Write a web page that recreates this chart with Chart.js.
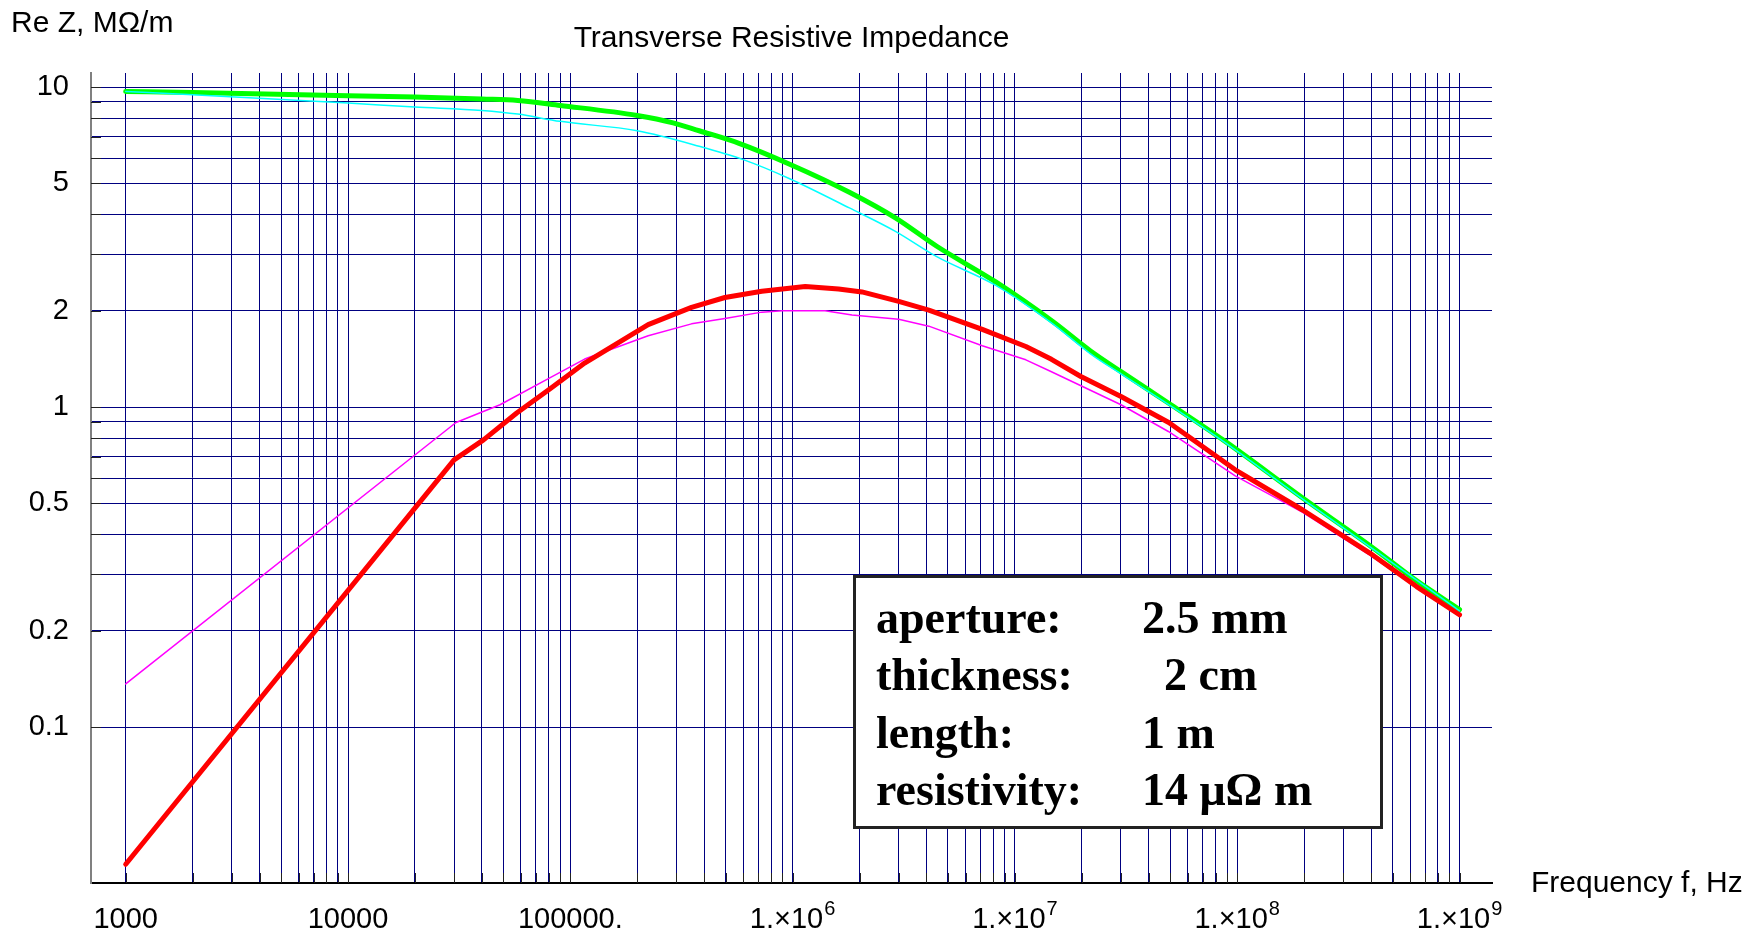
<!DOCTYPE html>
<html>
<head>
<meta charset="utf-8">
<title>Transverse Resistive Impedance</title>
<script src="https://cdn.jsdelivr.net/npm/chart.js@4.4.1/dist/chart.umd.min.js"></script>
<style>
  html, body { margin: 0; padding: 0; background: #fff; }
  #chart { display: block; }
</style>
</head>
<body>
<canvas id="chart" width="1755" height="934"></canvas>
<script>
// Frequency in Hz, Re Z in MOhm/m
const freqGreen = [1e3, 2e3, 1e4, 2e4, 4e4, 5.8e4, 9e4, 2e5, 2.9e5, 3.8e5, 5.7e5, 9.7e5, 1.8e6, 2.9e6, 4.45e6, 8.2e6, 1.48e7, 2.18e7, 3e7, 4.9e7, 8.7e7, 2e8, 4e8, 6.4e8, 1e9];
const zGreen    = [9.69, 9.62, 9.39, 9.31, 9.17, 9.08, 8.76, 8.15, 7.73, 7.30, 6.68, 5.74, 4.69, 3.90, 3.18, 2.46, 1.85, 1.50, 1.29, 1.03, 0.787, 0.516, 0.367, 0.287, 0.233];

const freqCyan = [1e3, 2e3, 1e4, 2e4, 4e4, 5.8e4, 9e4, 2e5, 3.8e5, 6e5, 9.7e5, 1.8e6, 2.9e6, 4.45e6, 8.2e6, 1.48e7, 2.18e7, 3e7, 4.9e7, 8.7e7, 2e8, 4e8, 1e9];
const zCyan    = [9.69, 9.46, 8.91, 8.66, 8.45, 8.23, 7.81, 7.30, 6.53, 5.93, 5.17, 4.19, 3.54, 2.95, 2.40, 1.82, 1.47, 1.27, 1.02, 0.78, 0.512, 0.364, 0.231];

const freqRed = [1e3, 3e4, 4.07e4, 5.74e4, 8.2e4, 1.16e5, 2.24e5, 3.51e5, 4.96e5, 7.27e5, 1.14e6, 1.61e6, 2.05e6, 3e6, 4.1e6, 7.13e6, 1.12e7, 1.46e7, 1.98e7, 3e7, 4.92e7, 9.8e7, 1.97e8, 3.95e8, 6.41e8, 1e9];
const zRed    = [0.0373, 0.684, 0.79, 0.958, 1.147, 1.373, 1.81, 2.05, 2.20, 2.30, 2.38, 2.34, 2.29, 2.14, 2.01, 1.75, 1.546, 1.41, 1.246, 1.079, 0.895, 0.637, 0.477, 0.35, 0.275, 0.2245];

const freqMagenta = [1e3, 3.06e4, 4.83e4, 8.2e4, 1.16e5, 2.24e5, 3.51e5, 4.96e5, 7.27e5, 9e5, 1.4e6, 1.85e6, 3e6, 4.1e6, 7.13e6, 1.12e7, 1.46e7, 3e7, 4.9e7, 9.8e7, 1.97e8, 3.95e8, 1e9];
const zMagenta    = [0.1365, 0.895, 1.017, 1.24, 1.413, 1.67, 1.82, 1.89, 1.98, 2.00, 2.00, 1.94, 1.88, 1.79, 1.555, 1.405, 1.29, 1.017, 0.839, 0.61, 0.469, 0.345, 0.222];

// Axis ticks
const xDecades = [1e3, 1e4, 1e5, 1e6, 1e7, 1e8];
const xMultipliers = [1, 2, 3, 4, 5, 6, 7, 8, 9];
const xLabelValues = [1e3, 1e4, 1e5, 1e6, 1e7, 1e8, 1e9];
const xLabelText = ['1000', '10000', '100000.', '1.\u00d710', '1.\u00d710', '1.\u00d710', '1.\u00d710'];
const xLabelExp = ['', '', '', '6', '7', '8', '9'];
const yGridValues = [0.1, 0.2, 0.3, 0.4, 0.5, 0.6, 0.7, 0.8, 0.9, 1, 2, 3, 4, 5, 6, 7, 8, 9, 10];
const yLabelValues = [0.1, 0.2, 0.5, 1, 2, 5, 10];
const yLabelText = ['0.1', '0.2', '0.5', '1', '2', '5', '10'];

// Parameter box
const boxLabels = ['aperture:', 'thickness:', 'length:', 'resistivity:'];
const boxValues = ['2.5 mm', '2 cm', '1 m', '14 \u03bc\u03a9 m'];

const titleText = 'Transverse Resistive Impedance';
const yTitleText = 'Re Z, M\u03a9/m';
const xTitleText = 'Frequency f, Hz';

const xGridValues = [];
xDecades.forEach(d => xMultipliers.forEach(m => xGridValues.push(d * m)));
xGridValues.push(1e9);

function toPoints(xs, ys) {
    return xs.map((x, i) => ({ x: x, y: ys[i] }));
}

function findLabel(value, values, texts) {
    for (let i = 0; i < values.length; i++) {
        if (Math.abs(value - values[i]) / values[i] < 1e-6) return texts[i];
    }
    return '';
}

const SANS = '"Liberation Sans", Arial, sans-serif';
const SERIF = '"Liberation Serif", "Times New Roman", serif';

// Titles, x labels with exponents, inward tick marks and the parameter box
const decorPlugin = {
    id: 'decor',
    beforeDatasetsDraw(chart) {
        const ctx = chart.ctx;
        const xs = chart.scales.x;
        const ys = chart.scales.y;
        const area = chart.chartArea;
        ctx.save();
        ctx.strokeStyle = '#222';
        ctx.lineWidth = 1;
        ctx.beginPath();
        xs.ticks.forEach(t => {
            const px = Math.round(xs.getPixelForValue(t.value)) + 0.5;
            ctx.moveTo(px, area.bottom);
            ctx.lineTo(px, area.bottom - 10);
        });
        ys.ticks.forEach(t => {
            const py = Math.round(ys.getPixelForValue(t.value)) + 0.5;
            ctx.moveTo(area.left, py);
            ctx.lineTo(area.left + 10, py);
        });
        ctx.stroke();
        ctx.restore();
    },
    afterDraw(chart) {
        const ctx = chart.ctx;
        const area = chart.chartArea;
        const xs = chart.scales.x;
        ctx.save();
        ctx.fillStyle = '#000';
        ctx.textBaseline = 'alphabetic';

        // x tick labels
        xLabelValues.forEach((v, i) => {
            const px = xs.getPixelForValue(v);
            ctx.font = '29px ' + SANS;
            const w1 = ctx.measureText(xLabelText[i]).width;
            ctx.font = '20px ' + SANS;
            const w2 = xLabelExp[i] ? ctx.measureText(xLabelExp[i]).width + 1 : 0;
            const x0 = px - (w1 + w2) / 2;
            ctx.textAlign = 'left';
            ctx.font = '29px ' + SANS;
            ctx.fillText(xLabelText[i], x0, 928);
            if (xLabelExp[i]) {
                ctx.font = '20px ' + SANS;
                ctx.fillText(xLabelExp[i], x0 + w1 + 1, 915);
            }
        });

        ctx.font = '30px ' + SANS;
        ctx.textAlign = 'center';
        ctx.fillText(titleText, (area.left + area.right) / 2, 47);
        ctx.textAlign = 'left';
        ctx.fillText(yTitleText, 11, 32);
        ctx.fillText(xTitleText, 1531, 892);

        // parameter box
        ctx.fillStyle = '#fff';
        ctx.fillRect(854, 576, 528, 252);
        ctx.strokeStyle = '#222';
        ctx.lineWidth = 3;
        ctx.strokeRect(854.5, 576.5, 527, 251);

        ctx.fillStyle = '#000';
        ctx.font = 'bold 46px ' + SERIF;
        const valueX = [1142, 1164, 1142, 1142];
        boxLabels.forEach((lab, i) => {
            const by = 633 + i * 57.4;
            ctx.fillText(lab, 876, by);
            ctx.fillText(boxValues[i], valueX[i], by);
        });
        ctx.restore();
    }
};

document.addEventListener('DOMContentLoaded', function() {
    const ctx = document.getElementById('chart').getContext('2d');
    new Chart(ctx, {
        type: 'line',
        data: {
            datasets: [
                {
                    label: 'cyan',
                    data: toPoints(freqCyan, zCyan),
                    borderColor: '#00ffff',
                    borderWidth: 1.5,
                    cubicInterpolationMode: 'monotone'
                },
                {
                    label: 'red',
                    data: toPoints(freqRed, zRed),
                    borderColor: '#ff0000',
                    borderWidth: 5
                },
                {
                    label: 'magenta',
                    data: toPoints(freqMagenta, zMagenta),
                    borderColor: '#ff00ff',
                    borderWidth: 1.5
                },
                {
                    label: 'green',
                    data: toPoints(freqGreen, zGreen),
                    borderColor: '#00ff00',
                    borderWidth: 5,
                    cubicInterpolationMode: 'monotone'
                }
            ]
        },
        options: {
            responsive: false,
            animation: false,
            devicePixelRatio: 1,
            layout: {
                padding: { top: 73, right: 263, left: 0, bottom: 0 }
            },
            elements: {
                point: { radius: 0 },
                line: { tension: 0, borderCapStyle: 'round', borderJoinStyle: 'round', fill: false }
            },
            plugins: {
                legend: { display: false },
                tooltip: { enabled: false },
                title: { display: false }
            },
            scales: {
                x: {
                    type: 'logarithmic',
                    min: 698,
                    max: 1.4e9,
                    afterFit: scale => { scale.height = 51; },
                    afterBuildTicks: scale => {
                        scale.ticks = xGridValues.map(v => ({ value: v }));
                    },
                    grid: {
                        color: '#000080',
                        lineWidth: 1,
                        drawTicks: false
                    },
                    border: { color: '#000', width: 2 },
                    ticks: {
                        display: false,
                        autoSkip: false,
                        maxRotation: 0
                    }
                },
                y: {
                    type: 'logarithmic',
                    min: 0.0326,
                    max: 11.06,
                    afterFit: scale => { scale.width = 91; },
                    afterBuildTicks: scale => {
                        scale.ticks = yGridValues.map(v => ({ value: v }));
                    },
                    grid: {
                        color: '#000080',
                        lineWidth: 1,
                        drawTicks: false
                    },
                    border: { color: '#808080', width: 2 },
                    ticks: {
                        autoSkip: false,
                        padding: 22,
                        color: '#000',
                        font: { family: SANS, size: 29 },
                        callback: value => findLabel(value, yLabelValues, yLabelText)
                    }
                }
            }
        },
        plugins: [decorPlugin]
    });
});
</script>
</body>
</html>
